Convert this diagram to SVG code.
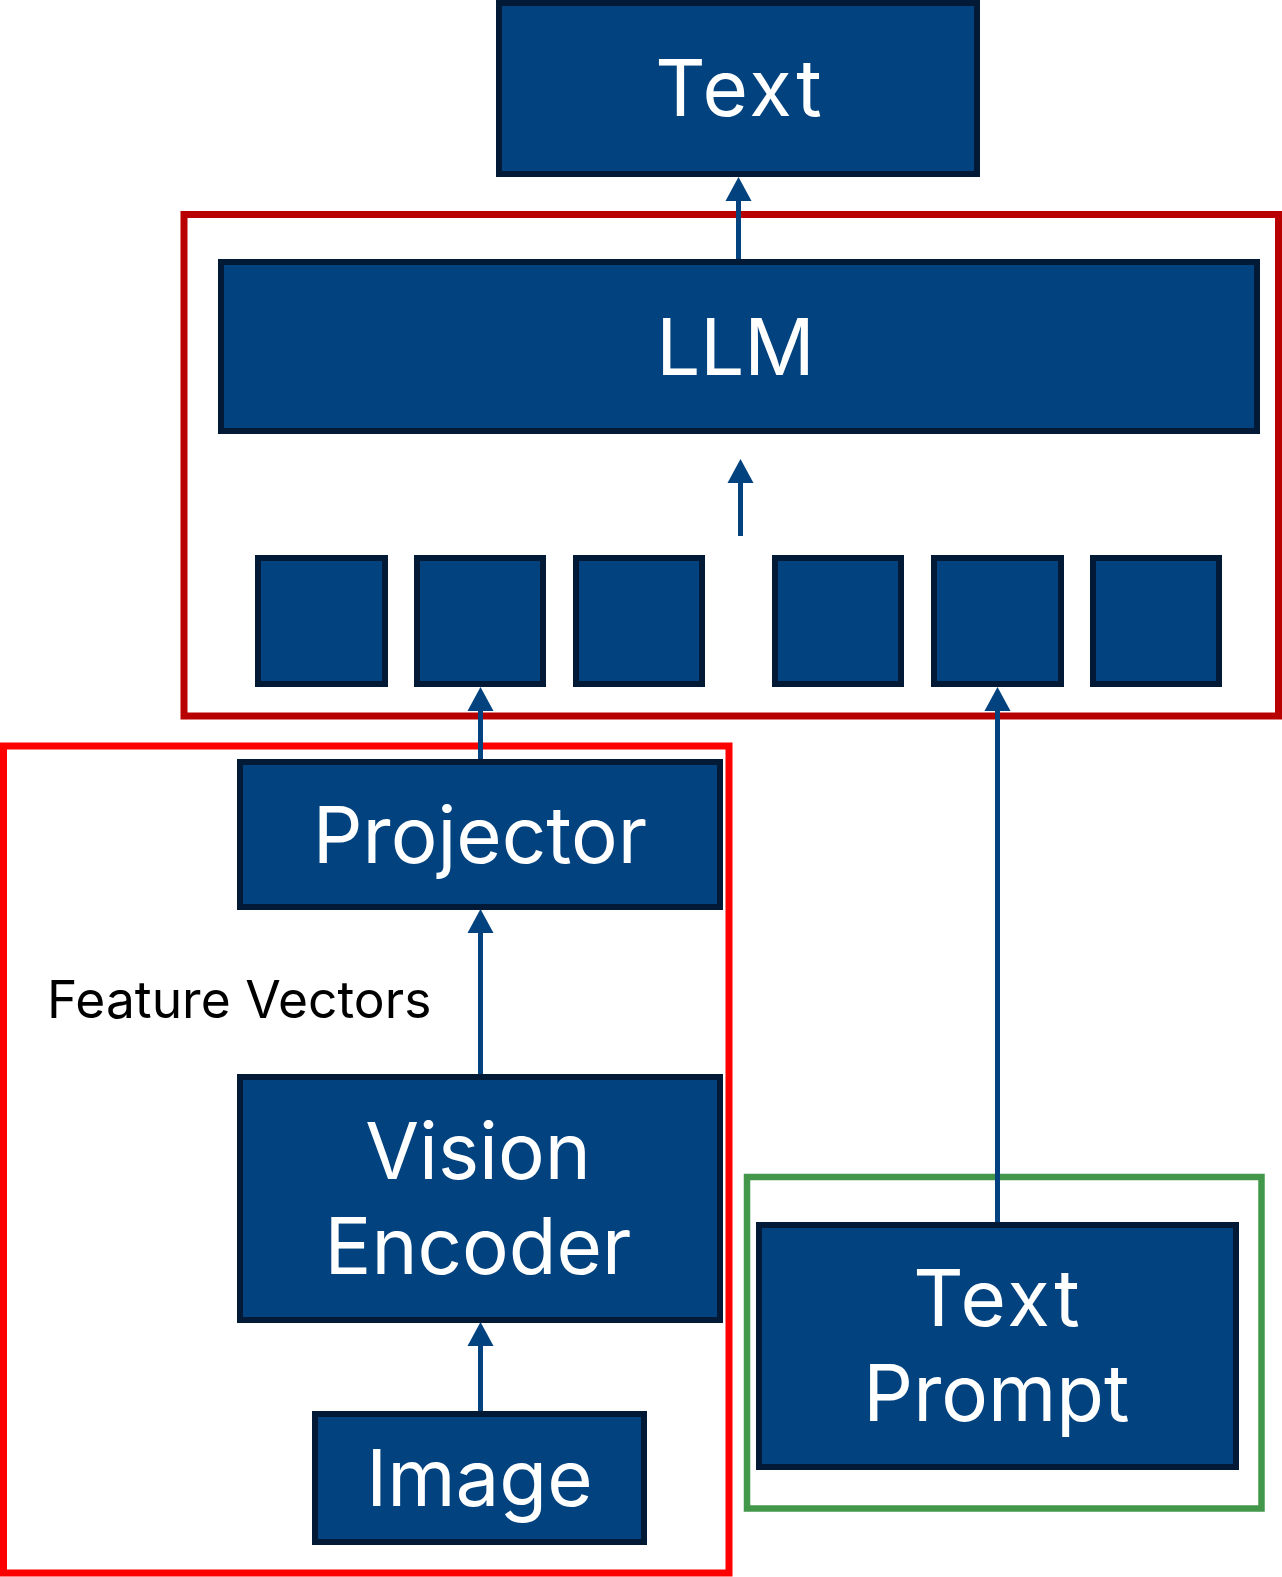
<svg xmlns="http://www.w3.org/2000/svg" width="1282" height="1577" viewBox="0 0 1282 1577">
<style>
.box{fill:#01427f;stroke:#021a36;stroke-width:6}
.lbl{font-family:Inter,"Noto Sans","Liberation Sans",sans-serif;fill:#ffffff;text-anchor:middle;font-size:78px}
.tx{letter-spacing:3px}
.ln{stroke:#01427f;stroke-width:5;fill:none}
.hd{fill:#01427f}
</style>
<rect width="1282" height="1577" fill="#ffffff"/>
<g id="containers" fill="none">
<rect id="llm-group" x="184" y="214.5" width="1094.5" height="501.5" stroke="#b80000" stroke-width="7"/>
<rect id="vision-group" x="3.5" y="746" width="725.5" height="827" stroke="#ff0000" stroke-width="7"/>
<rect id="prompt-group" x="747" y="1177" width="514.5" height="331.5" stroke="#43974a" stroke-width="6.5"/>
</g>
<g id="connectors">
<line class="ln" x1="738.5" y1="262" x2="738.5" y2="196"/>
<path class="hd" d="M738.5 177 L751.5 201 L725.5 201 Z"/>
<line class="ln" x1="740.5" y1="536" x2="740.5" y2="478"/>
<path class="hd" d="M740.5 459 L753.5 483 L727.5 483 Z"/>
<line class="ln" x1="480.5" y1="762" x2="480.5" y2="705"/>
<path class="hd" d="M480.5 687 L493.5 711 L467.5 711 Z"/>
<line class="ln" x1="997.5" y1="1225" x2="997.5" y2="705"/>
<path class="hd" d="M997.5 687 L1010.5 711 L984.5 711 Z"/>
<line class="ln" x1="480.5" y1="1077" x2="480.5" y2="927"/>
<path class="hd" d="M480.5 909 L493.5 933 L467.5 933 Z"/>
<line class="ln" x1="480.5" y1="1414" x2="480.5" y2="1340"/>
<path class="hd" d="M480.5 1322 L493.5 1346 L467.5 1346 Z"/>
</g>
<g id="text-out">
<rect class="box" x="499" y="3" width="478" height="171"/>
<text class="lbl tx" x="740" y="116">Text</text>
</g>
<g id="llm">
<rect class="box" x="221" y="262" width="1036" height="169"/>
<text class="lbl" x="735.5" y="375">LLM</text>
</g>
<g id="tokens">
<rect class="box" x="258" y="558" width="127" height="126"/>
<rect class="box" x="417" y="558" width="126" height="126"/>
<rect class="box" x="576" y="558" width="126" height="126"/>
<rect class="box" x="775" y="558" width="126" height="126"/>
<rect class="box" x="934" y="558" width="127" height="126"/>
<rect class="box" x="1093" y="558" width="126" height="126"/>
</g>
<g id="projector">
<rect class="box" x="240" y="762" width="480" height="145"/>
<text class="lbl" x="480" y="863">Projector</text>
</g>
<text id="feature-vectors" x="47" y="1018" font-family="Inter,'Noto Sans','Liberation Sans',sans-serif" font-size="51.5" fill="#000000">Feature Vectors</text>
<g id="vision-encoder">
<rect class="box" x="240" y="1077" width="480" height="243"/>
<text class="lbl" x="478" y="1179">Vision</text>
<text class="lbl" x="478" y="1274">Encoder</text>
</g>
<g id="image">
<rect class="box" x="315" y="1414" width="329" height="128"/>
<text class="lbl" x="479.5" y="1506">Image</text>
</g>
<g id="text-prompt">
<rect class="box" x="759" y="1225" width="477" height="242"/>
<text class="lbl tx" x="998" y="1326">Text</text>
<text class="lbl" x="996.5" y="1421">Prompt</text>
</g>
</svg>
